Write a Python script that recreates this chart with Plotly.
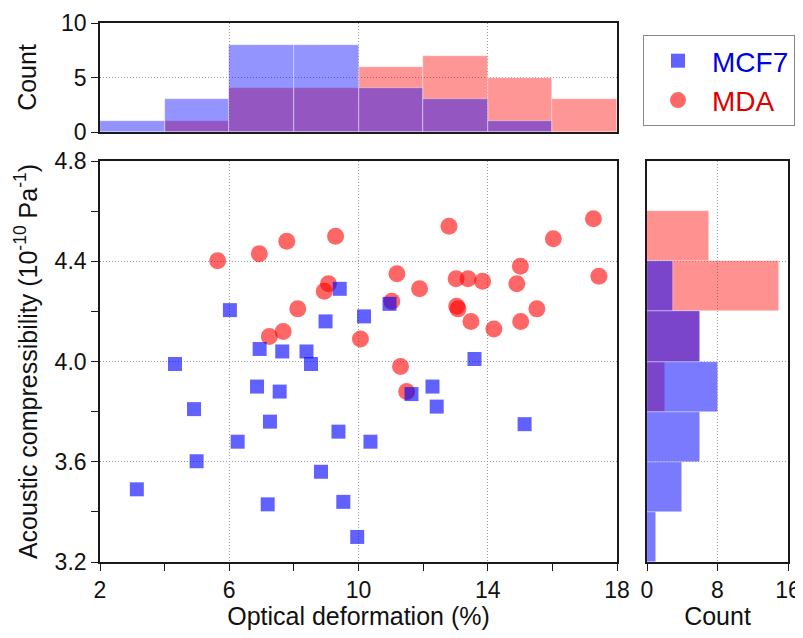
import plotly.graph_objects as go

# ---- data ----
mcf7_x = [6.02, 9.42, 8.98, 10.17, 6.94, 7.64, 8.39, 8.53, 4.32, 6.86, 7.56,
          4.91, 7.26, 9.38, 6.26, 4.99, 8.84, 3.14, 7.19, 9.53, 9.96,
          10.96, 13.59, 12.29, 11.64, 12.42, 10.37, 15.14]
mcf7_y = [4.205, 4.29, 4.16, 4.18, 4.05, 4.04, 4.04, 3.99, 3.99, 3.90, 3.88,
          3.81, 3.76, 3.72, 3.68, 3.602, 3.56, 3.49, 3.43, 3.44, 3.30,
          4.23, 4.01, 3.90, 3.87, 3.82, 3.68, 3.75]

mda_x = [5.64, 6.93, 7.78, 9.29, 9.07, 8.94, 8.12, 7.67, 7.24, 10.06,
         12.80, 17.27, 16.03, 15.01, 17.44, 11.19, 13.02, 13.39, 13.84, 14.90,
         11.89, 11.03, 13.04, 13.08, 15.52, 13.48, 15.02, 14.19, 11.30, 11.49]
mda_y = [4.402, 4.43, 4.48, 4.50, 4.31, 4.28, 4.21, 4.12, 4.10, 4.09,
         4.54, 4.57, 4.49, 4.38, 4.34, 4.35, 4.33, 4.33, 4.32, 4.31,
         4.29, 4.24, 4.22, 4.21, 4.21, 4.16, 4.16, 4.13, 3.98, 3.88]

x_ticks = [2, 6, 10, 14, 18]
y_ticks = [3.2, 3.6, 4.0, 4.4, 4.8]
count_top_ticks = [0, 5, 10]
count_right_ticks = [0, 8, 16]

FONT = "Liberation Sans, Arial, Helvetica, sans-serif"
BLUE = "rgba(0,0,255,0.62)"
RED = "rgba(255,0,0,0.6)"

fig = go.Figure()

# main scatter
fig.add_trace(go.Scatter(x=mda_x, y=mda_y, mode="markers",
                         name="<span style='color:#e00000'>MDA</span>",
                         legendrank=2,
                         marker=dict(symbol="circle", size=17, color=RED,
                                     line=dict(width=0)),
                         xaxis="x", yaxis="y"))
fig.add_trace(go.Scatter(x=mcf7_x, y=mcf7_y, mode="markers",
                         name="<span style='color:#0000e0'>MCF7</span>",
                         legendrank=1,
                         marker=dict(symbol="square", size=14, color=BLUE,
                                     line=dict(width=0)),
                         xaxis="x", yaxis="y"))

# top histograms
edge = dict(width=0.6, color="rgba(255,255,255,0.6)")
fig.add_trace(go.Histogram(x=mda_x, xbins=dict(start=2, end=18, size=2),
                           marker=dict(color="rgba(255,0,0,0.41)", line=edge),
                           showlegend=False, xaxis="x2", yaxis="y2"))
fig.add_trace(go.Histogram(x=mcf7_x, xbins=dict(start=2, end=18, size=2),
                           marker=dict(color="rgba(0,0,255,0.42)", line=edge),
                           showlegend=False, xaxis="x2", yaxis="y2"))

# right histograms
fig.add_trace(go.Histogram(y=mda_y, ybins=dict(start=3.2, end=4.8, size=0.2),
                           marker=dict(color="rgba(255,0,0,0.43)", line=edge),
                           showlegend=False, xaxis="x3", yaxis="y3"))
fig.add_trace(go.Histogram(y=mcf7_y, ybins=dict(start=3.2, end=4.8, size=0.2),
                           marker=dict(color="rgba(0,0,255,0.52)", line=edge),
                           showlegend=False, xaxis="x3", yaxis="y3"))

grid = dict(showgrid=True, gridcolor="#9a9a9a", griddash="1px,2px", gridwidth=1)
axline = dict(showline=True, linecolor="#1a1a1a", linewidth=1.6, mirror=True,
              zeroline=False, automargin=False)
tickfont = dict(family=FONT, size=23, color="#111")

# page body has an 8px margin at left/top
OFF = 8
W, H = 803 - OFF, 638 - 2 * OFF
# plot area in reference-page pixels: left 100, right 788, top 22, bottom 562
ml = 100 - OFF
mt = 22 - OFF
mr = W - (788 - OFF)
mb = H - (562 - OFF)
pw, ph = W - ml - mr, H - mt - mb

def dx(p):
    return (p - OFF - ml) / pw

def dy(p):
    return (H - mb - (p - OFF)) / ph

fig.update_layout(
    width=W, height=H,
    margin=dict(l=ml, r=mr, t=mt, b=mb, autoexpand=False),
    paper_bgcolor="white", plot_bgcolor="white",
    barmode="overlay", bargap=0,
    font=dict(family=FONT, color="#111"),
    xaxis=dict(domain=[0, dx(617)], range=[2, 18], tickvals=x_ticks,
               ticks="outside", ticklen=7, tickwidth=1.4, tickcolor="#1a1a1a",
               minor=dict(dtick=2, ticks="outside", ticklen=7, tickwidth=1.4,
                          tickcolor="#1a1a1a", showgrid=False),
               tickfont=tickfont,
               title=dict(text="Optical deformation (%)",
                          font=dict(family=FONT, size=25, color="#111"),
                          standoff=5),
               anchor="y", **grid, **axline),
    yaxis=dict(domain=[0, dy(161)], range=[3.2, 4.8], tickvals=y_ticks,
               tickformat=".1f",
               ticks="outside", ticklen=7, tickwidth=1.4, tickcolor="#1a1a1a",
               minor=dict(dtick=0.2, ticks="outside", ticklen=7, tickwidth=1.4,
                          tickcolor="#1a1a1a", showgrid=False),
               tickfont=tickfont,
               title=dict(text="Acoustic compressibility (10<sup>-10</sup> Pa<sup>-1</sup>)",
                          font=dict(family=FONT, size=25, color="#111"),
                          standoff=10),
               anchor="x", **grid, **axline),
    xaxis2=dict(domain=[0, dx(617)], range=[2, 18], tickvals=x_ticks,
                showticklabels=False, ticks="", anchor="y2", **grid, **axline),
    yaxis2=dict(domain=[dy(132), dy(23)], range=[0, 10], tickvals=count_top_ticks,
                ticks="outside", ticklen=7, tickwidth=1.4, tickcolor="#1a1a1a",
                tickfont=tickfont,
                title=dict(text="Count", font=dict(family=FONT, size=25, color="#111"),
                           standoff=17),
                anchor="x2", **grid, **axline),
    xaxis3=dict(domain=[dx(647), 1.0], range=[0, 16], tickvals=count_right_ticks,
                ticks="outside", ticklen=7, tickwidth=1.4, tickcolor="#1a1a1a",
                tickfont=tickfont,
                title=dict(text="Count", font=dict(family=FONT, size=25, color="#111"),
                           standoff=5),
                anchor="y3", **grid, **axline),
    yaxis3=dict(domain=[0, dy(161)], range=[3.2, 4.8], tickvals=y_ticks,
                showticklabels=False, ticks="", anchor="x3", **grid, **axline),
    legend=dict(x=dx(643), y=dy(35), xanchor="left", yanchor="top",
                bgcolor="white", bordercolor="#888", borderwidth=1,
                font=dict(family=FONT, size=28),
                itemwidth=58, tracegroupgap=0),
)

fig.write_html("out.html")
